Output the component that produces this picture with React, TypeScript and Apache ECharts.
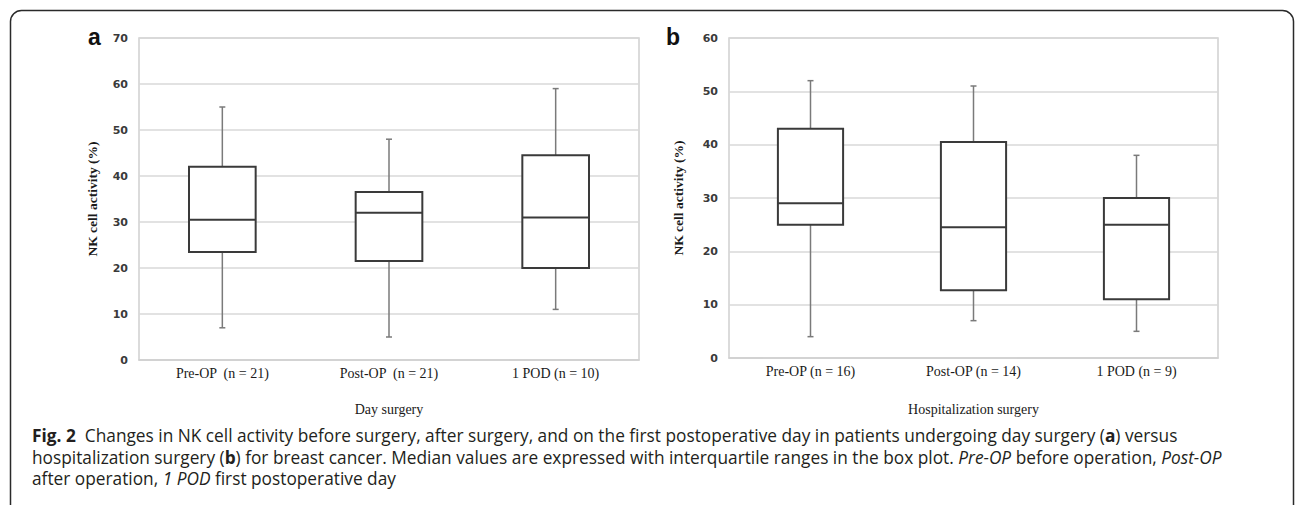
import React, { useEffect, useRef } from "react";
import * as echarts from "echarts";

// Panel a – Day surgery
const catsA = ["Pre-OP  (n = 21)", "Post-OP  (n = 21)", "1 POD (n = 10)"];
const minA = [7, 5, 11];
const q1A = [23.5, 21.5, 20];
const medA = [30.5, 32, 31];
const q3A = [42, 36.5, 44.5];
const maxA = [55, 48, 59];

// Panel b – Hospitalization surgery
const catsB = ["Pre-OP (n = 16)", "Post-OP (n = 14)", "1 POD (n = 9)"];
const minB = [4, 7, 5];
const q1B = [25, 12.7, 11];
const medB = [29, 24.5, 25];
const q3B = [43, 40.5, 30];
const maxB = [52, 51, 38];

const yMaxA = 70;
const yMaxB = 60;
const yStep = 10;

const captionLine1 =
  "{b|Fig. 2}  Changes in NK cell activity before surgery, after surgery, and on the first postoperative day in patients undergoing day surgery ({b|a}) versus";
const captionLine2 =
  "hospitalization surgery ({b|b}) for breast cancer. Median values are expressed with interquartile ranges in the box plot. {i|Pre-OP} before operation, {i|Post-OP}";
const captionLine3 = "after operation, {i|1 POD} first postoperative day";

const build = (mn: number[], q1: number[], md: number[], q3: number[], mx: number[]) =>
  mn.map((v, i) => [i, v, q1[i], md[i], q3[i], mx[i]]);

const renderBox = (params: any, api: any) => {
  const x = api.value(0);
  const lo = api.coord([x, api.value(1)]);
  const b1 = api.coord([x, api.value(2)]);
  const m = api.coord([x, api.value(3)]);
  const b3 = api.coord([x, api.value(4)]);
  const hi = api.coord([x, api.value(5)]);
  const bw = api.size([1, 0])[0] * 0.4;
  const cx = lo[0];
  const cap = 3;
  const wStyle = { stroke: "#7a7a7a", lineWidth: 1.5 };
  const bStyle = { stroke: "#3a3a3a", lineWidth: 2 };
  return {
    type: "group",
    children: [
      { type: "line", shape: { x1: cx, y1: b1[1], x2: cx, y2: lo[1] }, style: wStyle },
      { type: "line", shape: { x1: cx, y1: b3[1], x2: cx, y2: hi[1] }, style: wStyle },
      { type: "line", shape: { x1: cx - cap, y1: lo[1], x2: cx + cap, y2: lo[1] }, style: wStyle },
      { type: "line", shape: { x1: cx - cap, y1: hi[1], x2: cx + cap, y2: hi[1] }, style: wStyle },
      {
        type: "rect",
        shape: { x: cx - bw / 2, y: b3[1], width: bw, height: b1[1] - b3[1] },
        style: { fill: "#ffffff", ...bStyle },
      },
      { type: "line", shape: { x1: cx - bw / 2, y1: m[1], x2: cx + bw / 2, y2: m[1] }, style: bStyle },
    ],
  };
};

const serif = "'Liberation Serif', 'Times New Roman', serif";
const sans = "'DejaVu Sans', sans-serif";
const capFont = "'Open Sans', 'Noto Sans', sans-serif";
const capSize = 17.3;

export default function App() {
  const ref = useRef<HTMLDivElement>(null);
  useEffect(() => {
    if (!ref.current) return;
    const chart = echarts.init(ref.current, undefined, { renderer: "svg" });
    const xAxisBase = (cats: string[], idx: number, name: string, gap: number) => ({
      type: "category",
      gridIndex: idx,
      data: cats,
      boundaryGap: true,
      axisLine: { show: true, lineStyle: { color: "#d0d0d0", width: 1.5 } },
      axisTick: { show: false },
      axisLabel: { color: "#1a1a1a", fontFamily: serif, fontSize: 14, margin: 6 },
      name,
      nameLocation: "middle",
      nameGap: gap,
      nameTextStyle: { color: "#1a1a1a", fontFamily: serif, fontSize: 14 },
    });
    const yAxisBase = (idx: number, max: number, gap: number) => ({
      type: "value",
      gridIndex: idx,
      min: 0,
      max,
      interval: yStep,
      axisLine: { show: false },
      axisTick: { show: false },
      axisLabel: { color: "#3a3a3a", fontFamily: sans, fontSize: 11, fontWeight: "bold", margin: 11 },
      splitLine: { show: true, lineStyle: { color: "#d9d9d9", width: 1.5 } },
      name: "NK cell activity (%)",
      nameLocation: "middle",
      nameGap: gap,
      nameTextStyle: { color: "#1a1a1a", fontFamily: serif, fontSize: 13.5, fontWeight: "bold" },
    });
    chart.setOption({
      animation: false,
      backgroundColor: "#ffffff",
      grid: [
        { left: 139, right: 656, top: 38, bottom: 145, show: true, borderColor: "#d0d0d0", borderWidth: 1.5 },
        { left: 729, right: 77, top: 38, bottom: 147, show: true, borderColor: "#d0d0d0", borderWidth: 1.5 },
      ],
      xAxis: [xAxisBase(catsA, 0, "Day surgery", 42), xAxisBase(catsB, 1, "Hospitalization surgery", 44)],
      yAxis: [yAxisBase(0, yMaxA, 40), yAxisBase(1, yMaxB, 44)],
      series: [
        {
          type: "custom",
          xAxisIndex: 0,
          yAxisIndex: 0,
          renderItem: renderBox,
          encode: { x: 0, y: [1, 2, 3, 4, 5] },
          data: build(minA, q1A, medA, q3A, maxA),
        },
        {
          type: "custom",
          xAxisIndex: 1,
          yAxisIndex: 1,
          renderItem: renderBox,
          encode: { x: 0, y: [1, 2, 3, 4, 5] },
          data: build(minB, q1B, medB, q3B, maxB),
        },
      ],
      graphic: [
        {
          type: "rect",
          shape: { x: 10.5, y: 10.5, width: 1283, height: 540, r: 11 },
          style: { fill: "none", stroke: "#2a2a2a", lineWidth: 1.5 },
          silent: true,
        },
        {
          type: "text",
          left: 88,
          top: 25,
          style: { text: "a", fontSize: 23, fontWeight: "bold", fontFamily: "'Liberation Sans', Arial, sans-serif", fill: "#111" },
        },
        {
          type: "text",
          left: 666,
          top: 25,
          style: { text: "b", fontSize: 23, fontWeight: "bold", fontFamily: "'Liberation Sans', Arial, sans-serif", fill: "#111" },
        },
        ...[captionLine1, captionLine2, captionLine3].map((t, i) => ({
          type: "text",
          left: 32,
          top: 427 + i * 21.5,
          style: {
            text: t,
            fontSize: capSize,
            fontFamily: capFont,
            fill: "#231f20",
            rich: {
              b: { fontSize: capSize, fontFamily: capFont, fontWeight: "bold", fill: "#231f20" },
              i: { fontSize: capSize, fontFamily: capFont, fontStyle: "italic", fill: "#231f20" },
            },
          },
        })),
      ],
    });
    return () => chart.dispose();
  }, []);
  return (
    <div
      ref={ref}
      style={{ position: "absolute", left: 0, top: 0, width: 1295, height: 505, background: "#fff" }}
    />
  );
}
